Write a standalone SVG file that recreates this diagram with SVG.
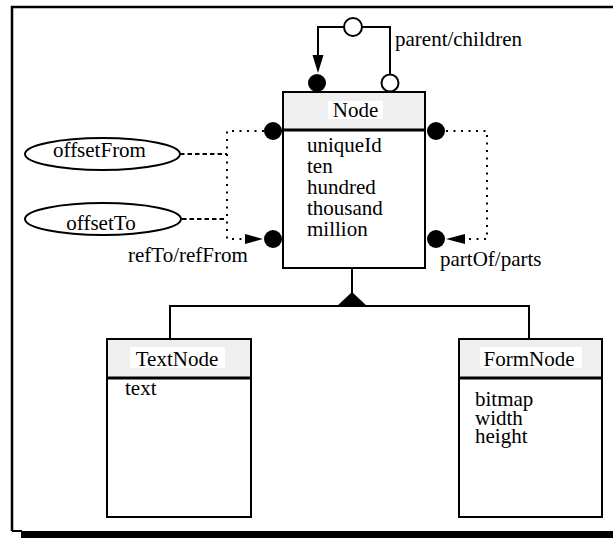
<svg xmlns="http://www.w3.org/2000/svg" width="613" height="538" viewBox="0 0 613 538">
  <style>
    text { font-family: "Liberation Serif", "Times New Roman", serif; font-size: 21px; fill: #000; }
    .box { fill: #fff; stroke: #000; stroke-width: 2; }
    .head { fill: #efefef; stroke: #000; stroke-width: 2; }
    .divider { stroke: #000; stroke-width: 3; }
    .label-bg { fill: #fff; }
    .line { fill: none; stroke: #000; stroke-width: 2; }
    .dotted { fill: none; stroke: #000; stroke-width: 2; stroke-dasharray: 2 5.5; }
    .dashed { fill: none; stroke: #000; stroke-width: 2; stroke-dasharray: 4.5 3; }
    .dot { fill: #000; }
    .hollow { fill: #fff; stroke: #000; stroke-width: 2; }
    .ellipse { fill: #fff; stroke: #000; stroke-width: 2; }
  </style>

  <!-- page frame with drop shadow -->
  <g id="frame">
    <path d="M12 531 V7 H613" fill="none" stroke="#000" stroke-width="2.5"/>
    <path d="M12 531 H22" fill="none" stroke="#000" stroke-width="2"/>
    <rect x="21" y="531" width="592" height="7" fill="#000"/>
  </g>

  <!-- connectors -->
  <g id="connectors">
    <!-- parent/children self association -->
    <path class="line" d="M318 55 V27 H390 V74"/>
    <polygon class="dot" points="312.5,55 323.5,55 318,73"/>
    <circle class="hollow" cx="353" cy="27" r="9"/>
    <circle class="dot" cx="317" cy="83" r="9"/>
    <circle class="hollow" cx="390" cy="83" r="8.5"/>

    <!-- refTo/refFrom -->
    <path class="dotted" d="M264 131 H227 V239 H246"/>
    <polygon class="dot" points="245,234 245,244 263,239"/>
    <circle class="dot" cx="273" cy="131" r="9"/>
    <circle class="dot" cx="273" cy="239" r="9"/>
    <path class="dashed" d="M180 154 H227"/>
    <path class="dashed" d="M182 219 H227"/>

    <!-- partOf/parts -->
    <path class="dotted" d="M446 131 H487 V239 H465"/>
    <polygon class="dot" points="465,234 465,244 446,239"/>
    <circle class="dot" cx="436" cy="131" r="9"/>
    <circle class="dot" cx="436" cy="239" r="9"/>

    <!-- generalisation -->
    <path class="line" d="M352 268 V293"/>
    <path class="line" d="M170 339 V306 H529 V339"/>
    <polygon class="dot" points="352,292 336,307 368,307"/>
  </g>

  <g id="labels">
    <text x="395" y="46">parent/children</text>
    <text x="128" y="262">refTo/refFrom</text>
    <text x="440" y="266">partOf/parts</text>
  </g>

  <g id="offsetFrom">
    <ellipse class="ellipse" cx="102.5" cy="154" rx="77.5" ry="16"/>
    <text x="99.5" y="157" text-anchor="middle">offsetFrom</text>
  </g>

  <g id="offsetTo">
    <ellipse class="ellipse" cx="103" cy="219" rx="78" ry="16"/>
    <text x="101" y="230" text-anchor="middle">offsetTo</text>
  </g>

  <g id="Node">
    <rect class="box" x="283" y="92" width="142" height="176"/>
    <rect class="head" x="283" y="92" width="142" height="38"/>
    <line class="divider" x1="283" y1="130" x2="425" y2="130"/>
    <rect class="label-bg" x="328" y="101" width="55" height="18"/>
    <text x="355.5" y="117" text-anchor="middle">Node</text>
    <text x="307" y="152">uniqueId</text>
    <text x="307" y="173">ten</text>
    <text x="307" y="194">hundred</text>
    <text x="307" y="215">thousand</text>
    <text x="307" y="236">million</text>
  </g>

  <g id="TextNode">
    <rect class="box" x="107" y="339" width="144" height="178"/>
    <rect class="head" x="107" y="339" width="144" height="39"/>
    <line class="divider" x1="107" y1="378" x2="251" y2="378"/>
    <rect class="label-bg" x="130" y="347" width="95" height="21"/>
    <text x="177" y="366" text-anchor="middle">TextNode</text>
    <text x="125" y="395">text</text>
  </g>

  <g id="FormNode">
    <rect class="box" x="459" y="339" width="143" height="178"/>
    <rect class="head" x="459" y="339" width="143" height="39"/>
    <line class="divider" x1="459" y1="378" x2="602" y2="378"/>
    <rect class="label-bg" x="480" y="347" width="102" height="21"/>
    <text x="529" y="366" text-anchor="middle">FormNode</text>
    <text x="475" y="406">bitmap</text>
    <text x="475" y="424.5">width</text>
    <text x="475" y="443">height</text>
  </g>
</svg>
